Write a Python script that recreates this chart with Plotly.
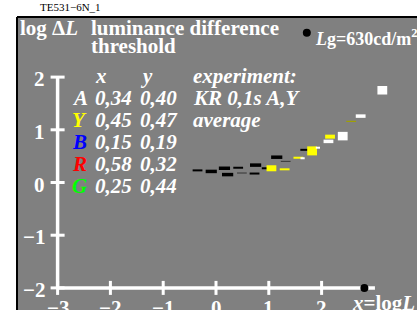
import plotly.graph_objects as go

# ---------------- data ----------------
# axis ticks
x_ticks = [-3, -2, -1, 0, 1, 2]
x_tick_labels = ["\u22123", "\u22122", "\u22121", "0", "1", "2"]
y_ticks = [2, 1, 0, -1, -2]
y_tick_labels = ["2", "1", "0", "\u22121", "\u22122"]

# legend table
row_letters = ["A", "Y", "B", "R", "G"]
row_x = ["0,34", "0,45", "0,15", "0,58", "0,25"]
row_y = ["0,40", "0,47", "0,19", "0,32", "0,44"]
row_notes = ["KR 0,1s A,Y", "average", "", "", ""]

# measured points (log L, log dL), grouped by mark kind
black_rect_x = [-0.09, 0.16, 0.22, 0.75, 1.15]
black_rect_y = [0.21, 0.27, 0.15, 0.33, 0.48]
black_dash_x = [-0.35, 0.42, 0.73, 0.96, 1.69]
black_dash_y = [0.23, 0.28, 0.17, 0.27, 0.62]
gray_dash_x = [0.49, 1.32]
gray_dash_y = [0.18, 0.40]
yellow_box_x = [1.05]
yellow_box_y = [0.27]
yellow_tall_x = [1.82]
yellow_tall_y = [0.60]
yellow_rect_x = [2.16]
yellow_rect_y = [0.87]
yellow_dash_x = [1.30, 1.56]
yellow_dash_y = [0.25, 0.47]
olive_dash_x = [2.56]
olive_dash_y = [1.16]
white_rect_x = [2.13, 2.74]
white_rect_y = [0.78, 1.26]
white_tall_x = [2.40, 3.15]
white_tall_y = [0.88, 1.75]
white_dot_x = [1.64, 1.93]
white_dot_y = [0.46, 0.66]

lg_dot = (1.72, 2.84)
axis_end_dot = (2.81, -2)
x_axis_end = 3.01

# ---------------- geometry ----------------
W, H = 417, 310
X0, SX = 216.0, 52.8   # pixel of x=0, px per unit
Y0, SY = 182.5, 52.7   # pixel of y=0, px per unit
xr = [(0 - X0) / SX, (W - X0) / SX]
yr = [(Y0 - H) / SY, Y0 / SY]

def px(x):
    return x / W

def py(y):
    return 1 - y / H

SERIF = "Liberation Serif, Times New Roman, serif"
GRAY = "#808080"

fig = go.Figure()

# axes lines
fig.add_trace(go.Scatter(x=[x_ticks[0], x_ticks[0]], y=[y_ticks[-1], y_ticks[0]],
                         mode="lines", line=dict(color="white", width=3.5), hoverinfo="skip"))
fig.add_trace(go.Scatter(x=[x_ticks[0], x_axis_end], y=[y_ticks[-1], y_ticks[-1]],
                         mode="lines", line=dict(color="white", width=3.5), hoverinfo="skip"))
# tick marks
fig.add_trace(go.Scatter(x=[x_ticks[0]] * len(y_ticks), y=y_ticks, mode="markers",
                         marker=dict(symbol="line-ew", size=10, line=dict(color="white", width=3)),
                         hoverinfo="skip"))
fig.add_trace(go.Scatter(x=x_ticks, y=[y_ticks[-1]] * len(x_ticks), mode="markers",
                         marker=dict(symbol="line-ns", size=10, line=dict(color="white", width=3)),
                         hoverinfo="skip"))
# end dot & Lg dot
fig.add_trace(go.Scatter(x=[axis_end_dot[0], lg_dot[0]], y=[axis_end_dot[1], lg_dot[1]],
                         mode="markers", marker=dict(color="black", size=8), hoverinfo="skip"))


def bars(xs, ys, color, w, h):
    fig.add_trace(go.Scatter(x=xs, y=ys, mode="markers",
                             marker=dict(symbol="line-ew", size=w,
                                         line=dict(color=color, width=h)),
                             hoverinfo="skip"))


bars(black_rect_x, black_rect_y, "black", 8, 3.5)
bars(black_dash_x, black_dash_y, "black", 7, 2)
bars(gray_dash_x, gray_dash_y, "#404040", 7, 1.2)
bars(yellow_box_x, yellow_box_y, "#ffff00", 7, 6)
bars(yellow_tall_x, yellow_tall_y, "#ffff00", 7, 9)
bars(yellow_rect_x, yellow_rect_y, "#ffff00", 7, 4)
bars(yellow_dash_x, yellow_dash_y, "#ffff00", 7, 2)
bars(olive_dash_x, olive_dash_y, "#a0a000", 7, 1.2)
bars(white_rect_x, white_rect_y, "white", 7, 3.5)
bars(white_tall_x, white_tall_y, "white", 7, 8.5)
bars(white_dot_x, white_dot_y, "white", 3, 2)

ann = []
# tick labels
for v, t in zip(y_ticks, y_tick_labels):
    ann.append(dict(x=x_ticks[0], y=v, xref="x", yref="y", text=f"<b>{t}</b>",
                    xanchor="right", yanchor="middle", xshift=-11, yshift=-2,
                    font=dict(family=SERIF, size=21, color="white"), showarrow=False))
for v, t in zip(x_ticks, x_tick_labels):
    ann.append(dict(x=v, y=y_ticks[-1], xref="x", yref="y", text=f"<b>{t}</b>",
                    xanchor="center", yanchor="top", yshift=-6,
                    font=dict(family=SERIF, size=21, color="white"), showarrow=False))

def txt(x, y, text, size=21, color="white", anchor="left", yanchor="middle"):
    ann.append(dict(x=px(x), y=py(y), xref="paper", yref="paper", text=text,
                    xanchor=anchor, yanchor=yanchor, showarrow=False,
                    font=dict(family=SERIF, size=size, color=color)))

txt(38, 7, "TE531\u22126N_1", size=11, color="black")
txt(18, 28, "<b>log \u0394<i>L</i></b>")
txt(89, 28, "<b>luminance difference</b>")
txt(89, 46, "<b>threshold</b>")
txt(313, 37, "<b><i>L</i>g=630cd/m<sup>2</sup></b>", size=18)
txt(350, 289, "<b><i>x</i>=log<i>L</i></b>", yanchor="top")

# legend table
letter_colors = ["white", "#ffff00", "#0000ff", "#ff0000", "#00ff00"]
row_y0, row_dy = 76, 22
txt(93, row_y0, "<b><i>x</i></b>")
txt(138, row_y0, "<b><i>y</i></b>")
txt(191, row_y0, "<b><i>experiment:</i></b>")
for i in range(len(row_letters)):
    yy = row_y0 + row_dy * (i + 1)
    txt(70, yy, f"<b><i>{row_letters[i]}</i></b>", color=letter_colors[i])
    txt(93, yy, f"<b><i>{row_x[i]}</i></b>")
    txt(138, yy, f"<b><i>{row_y[i]}</i></b>")
    if row_notes[i]:
        txt(191, yy, f"<b><i>{row_notes[i]}</i></b>")

fig.update_layout(
    width=W, height=H, margin=dict(l=0, r=0, t=0, b=0),
    paper_bgcolor=GRAY, plot_bgcolor="rgba(0,0,0,0)",
    showlegend=False,
    xaxis=dict(range=xr, visible=False, fixedrange=True),
    yaxis=dict(range=yr, visible=False, fixedrange=True),
    annotations=ann,
    shapes=[
        # white margin strips (top and left) around the gray frame
        dict(type="rect", xref="paper", yref="paper", x0=-0.1, x1=1.2,
             y0=py(17), y1=1.2, fillcolor="white", line=dict(width=0), layer="below"),
        dict(type="rect", xref="paper", yref="paper", x0=-0.1, x1=px(17),
             y0=-0.2, y1=1.2, fillcolor="white", line=dict(width=0), layer="below"),
        # black frame edges
        dict(type="line", xref="paper", yref="paper", x0=px(17), x1=1.2,
             y0=py(17), y1=py(17), line=dict(color="black", width=2), layer="below"),
        dict(type="line", xref="paper", yref="paper", x0=px(17), x1=px(17),
             y0=-0.2, y1=py(17), line=dict(color="black", width=2), layer="below"),
    ],
)

fig.write_html("out.html", config={"displayModeBar": False, "staticPlot": True},
               post_script="document.body.style.margin='0';document.body.style.overflow='hidden';"
                           "document.documentElement.style.overflow='hidden';"
                           "document.body.style.background='#808080';")
